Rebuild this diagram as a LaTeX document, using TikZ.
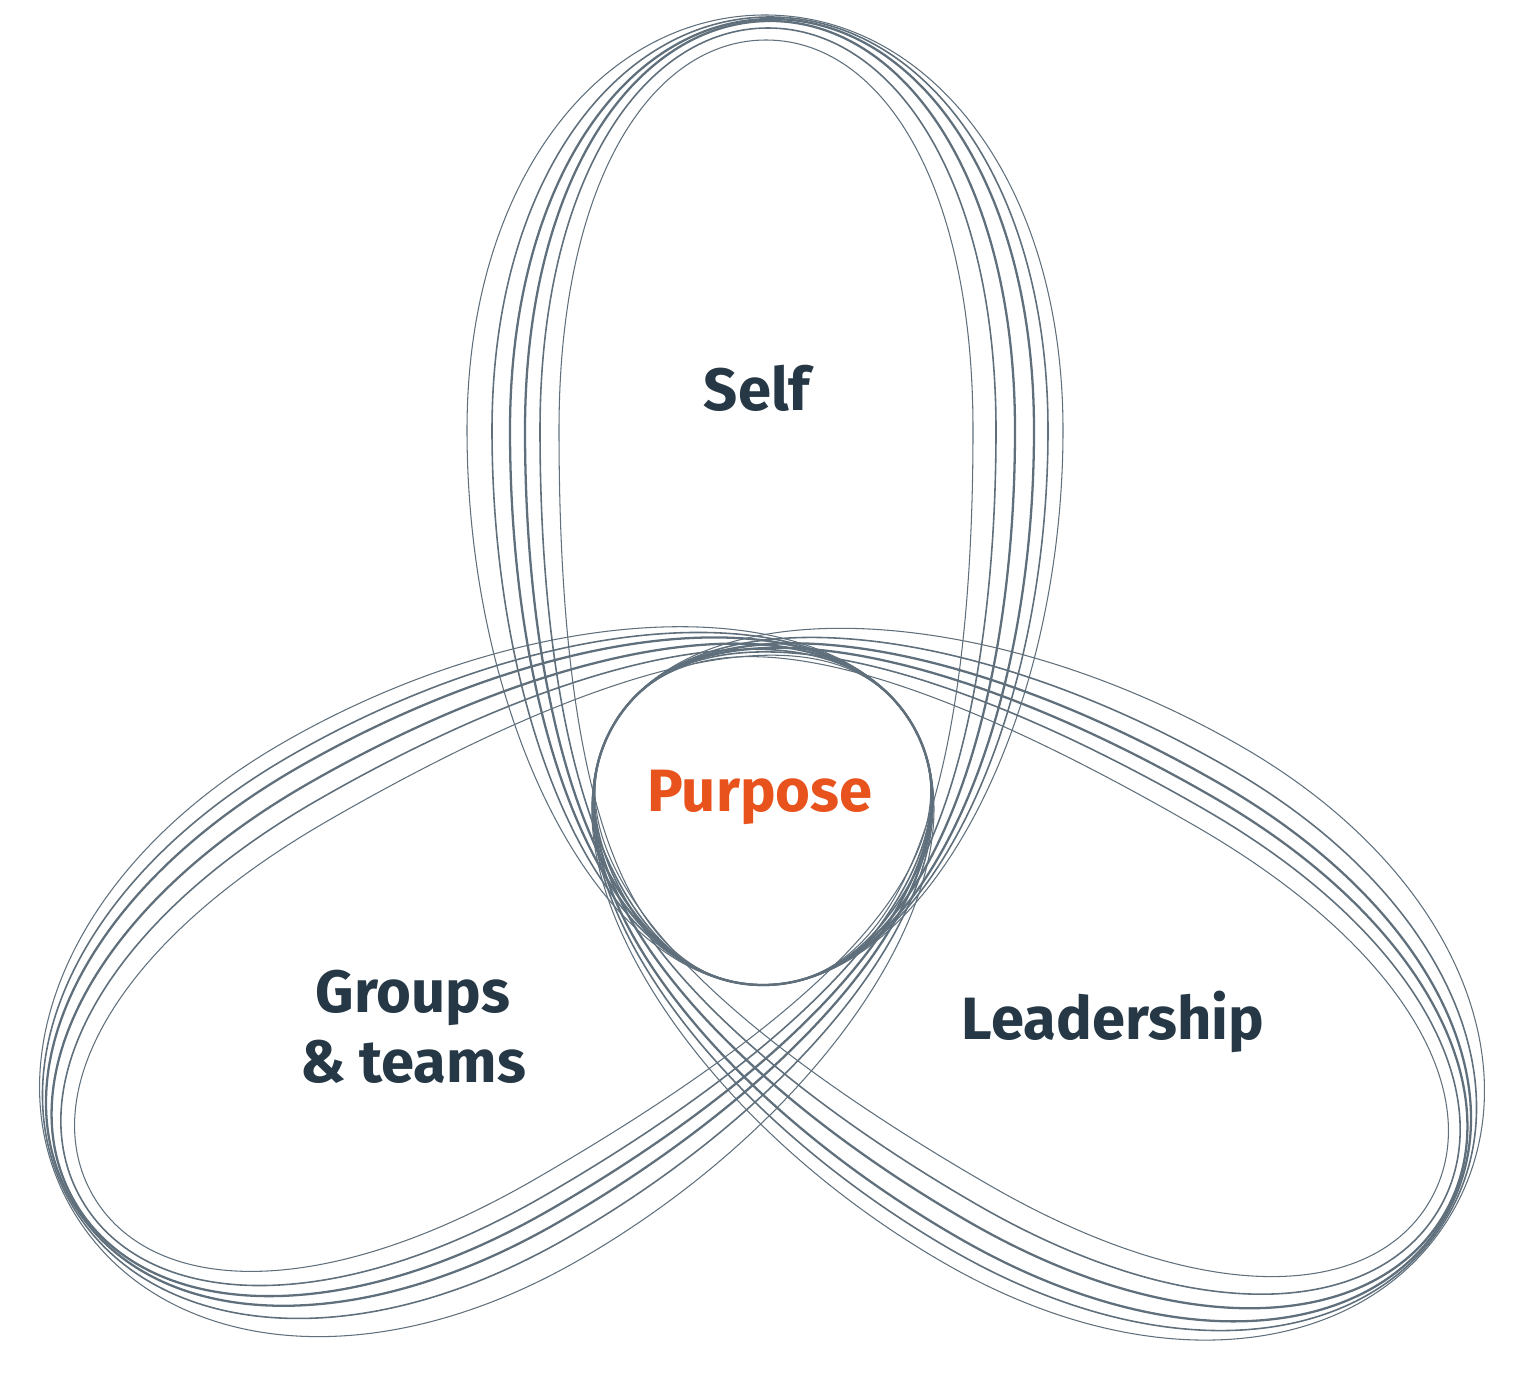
\documentclass[tikz,border=0pt]{standalone}
\usepackage{fontspec}
\setmainfont{Fira Sans}
\definecolor{loopc}{HTML}{5F6F7B}
\definecolor{dark}{HTML}{263845}
\definecolor{orng}{HTML}{E8521C}
\tikzset{lbl/.style={font=\fontsize{34}{40}\selectfont\bfseries,text=dark,align=center}}
\begin{document}
\begin{tikzpicture}[x=0.02cm,y=-0.02cm]
\useasboundingbox (0,0) rectangle (1518,1375);
\foreach \ang in {0,120,240}{
\begin{scope}[rotate around={\ang:(763,812)}]
\foreach \cx/\w/\tp/\lw in {765/298/15/0.6,770/278/17/0.9,772/262/19/1.3,770/245/21/1.3,768/228/28/0.9,766/207/40/0.6}{
\draw[draw=loopc,line width=\lw pt] (763,985) .. controls (600,985) and ({\cx-\w},720) .. ({\cx-\w},430)
 .. controls ({\cx-\w},180) and ({\cx-0.55*\w},\tp) .. (\cx,\tp)
 .. controls ({\cx+0.55*\w},\tp) and ({\cx+\w},180) .. ({\cx+\w},430)
 .. controls ({\cx+\w},720) and (926,985) .. (763,985);
}
\end{scope}}
\node[lbl] (self) at (757,388) {Self};
\node[lbl,text=orng] (purpose) at (760,797) {Purpose};
\node[lbl] (groups) at (413,1027) {Groups\\\& teams};
\node[lbl] (lead) at (1113,1022) {Leadership};
\end{tikzpicture}
\end{document}
